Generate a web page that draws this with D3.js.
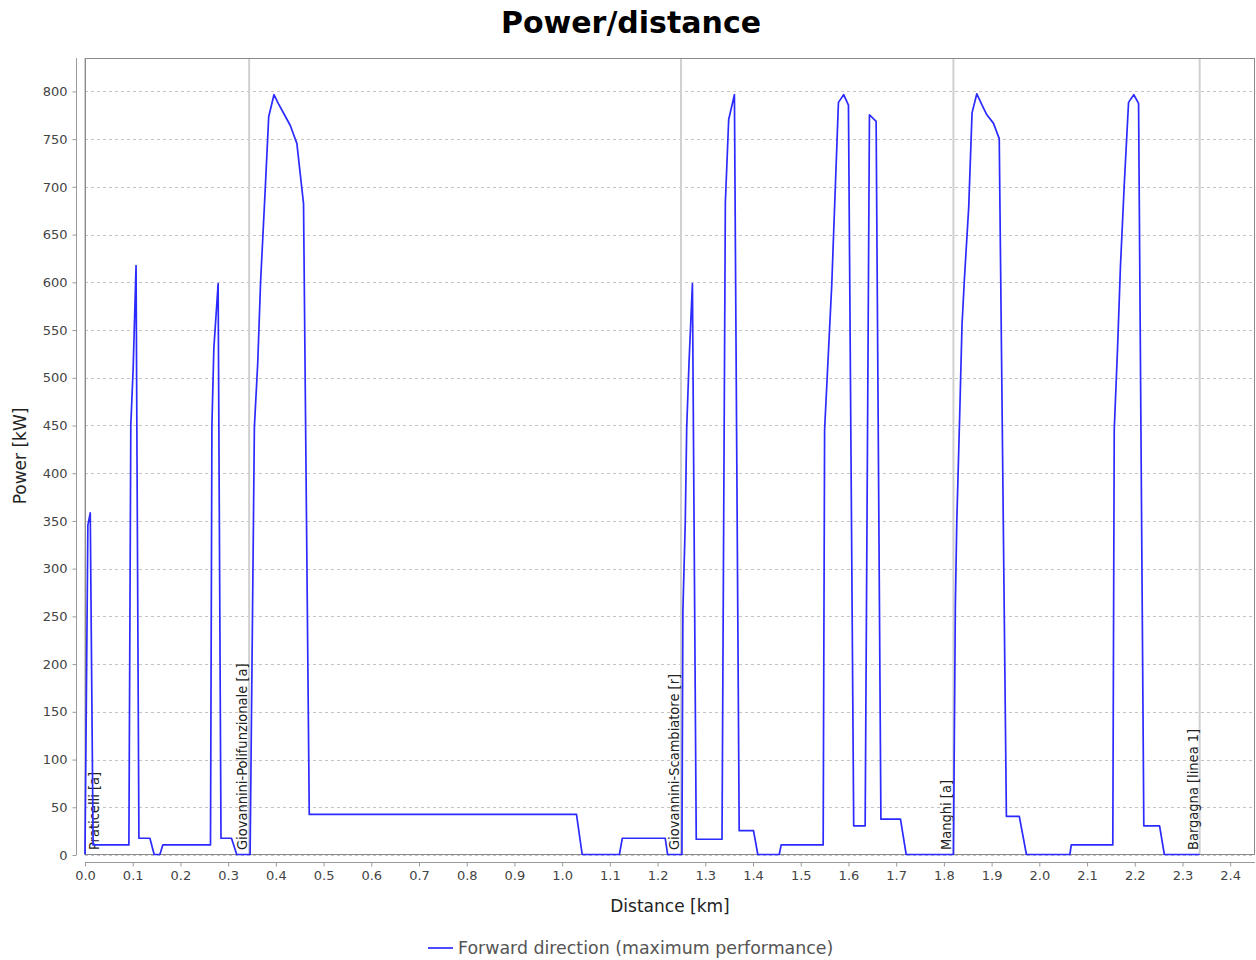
<!DOCTYPE html>
<html>
<head>
<meta charset="utf-8">
<script src="https://cdn.jsdelivr.net/npm/d3@7"></script>
<style>
  html, body { margin: 0; padding: 0; background: #fff; }
  svg { display: block; font-family: "DejaVu Sans", sans-serif; }
</style>
</head>
<body>
<svg id="chart" width="1256" height="960"></svg>
<script>
// Distance along the route [km]
const distance = [
  0.000, 0.006, 0.011, 0.017, 0.092, 0.096, 0.101, 0.107, 0.113, 0.136,
  0.145, 0.157, 0.163, 0.263, 0.266, 0.270, 0.279, 0.285, 0.307, 0.318,
  0.346, 0.355, 0.362, 0.368, 0.378, 0.385, 0.396, 0.405, 0.418, 0.430,
  0.444, 0.458, 0.470, 1.030, 1.042, 1.120, 1.126, 1.216, 1.221, 1.251,
  1.253, 1.258, 1.261, 1.266, 1.273, 1.281, 1.335, 1.342, 1.349, 1.361,
  1.371, 1.401, 1.410, 1.455, 1.459, 1.547, 1.550, 1.565, 1.579, 1.590,
  1.600, 1.611, 1.635, 1.644, 1.658, 1.668, 1.709, 1.721, 1.820, 1.824,
  1.827, 1.833, 1.838, 1.843, 1.852, 1.859, 1.869, 1.880, 1.890, 1.904,
  1.916, 1.931, 1.958, 1.973, 2.064, 2.067, 2.154, 2.157, 2.164, 2.170,
  2.178, 2.187, 2.198, 2.208, 2.219, 2.252, 2.262, 2.336
];
// Power demand, forward direction [kW]
const power = [
  0, 345, 358, 10, 10, 450, 510, 617, 17, 17,
  0, 0, 10, 10, 450, 530, 598, 17, 17, 0,
  0, 448, 515, 600, 700, 773, 796, 787, 775, 764,
  745, 682, 42, 42, 0, 0, 17, 17, 0, 0,
  255, 348, 447, 517, 598, 16, 16, 683, 770, 796,
  25, 25, 0, 0, 10, 10, 445, 597, 788, 796,
  785, 30, 30, 775, 768, 37, 37, 0, 0, 260,
  348, 458, 555, 603, 678, 777, 797, 785, 775, 766,
  750, 40, 40, 0, 0, 10, 10, 445, 531, 616,
  702, 788, 796, 787, 30, 30, 0, 0
];
// Stops along the line
const stopNames = [
  "Praticelli [a]",
  "Giovannini-Polifunzionale [a]",
  "Giovannini-Scambiatore [r]",
  "Manghi [a]",
  "Bargagna [linea 1]"
];
const stopDistance = [0.0, 0.344, 1.249, 1.820, 2.336];

const xTicks = d3.range(0, 25).map(i => i / 10);
const yTicks = d3.range(0, 17).map(i => i * 50);

const xMax = 2.452, yMax = 835;
const seriesName = "Forward direction (maximum performance)";

const plot = { left: 85, top: 58, right: 1255, bottom: 855 };

const svg = d3.select("#chart");

const x = d3.scaleLinear().domain([0, xMax]).range([plot.left, plot.right]);
const y = d3.scaleLinear().domain([0, yMax]).range([plot.bottom, plot.top]);

// Title
svg.append("text")
  .attr("x", 631).attr("y", 33)
  .attr("text-anchor", "middle")
  .attr("font-size", 30).attr("font-weight", "bold")
  .attr("fill", "#000")
  .text("Power/distance");

// Plot background
svg.append("rect")
  .attr("x", plot.left).attr("y", plot.top)
  .attr("width", plot.right - plot.left).attr("height", plot.bottom - plot.top)
  .attr("fill", "#fff");

// Horizontal gridlines
svg.append("g").selectAll("line").data(yTicks).join("line")
  .attr("x1", plot.left).attr("x2", plot.right)
  .attr("y1", d => Math.round(y(d)) + 0.5).attr("y2", d => Math.round(y(d)) + 0.5)
  .attr("stroke", "#c4c4c4").attr("stroke-width", 1)
  .attr("stroke-dasharray", "3,3");

// Stop markers
const markers = svg.append("g");
markers.selectAll("line").data(stopDistance).join("line")
  .attr("x1", d => x(d)).attr("x2", d => x(d))
  .attr("y1", plot.top).attr("y2", plot.bottom)
  .attr("stroke", "#d0d0d0").attr("stroke-width", 2);

// Plot border
svg.append("rect")
  .attr("x", plot.left + 0.5).attr("y", plot.top + 0.5)
  .attr("width", plot.right - plot.left - 1).attr("height", plot.bottom - plot.top - 1)
  .attr("fill", "none").attr("stroke", "#8a8a8a").attr("stroke-width", 1);

// Power series
const lineGen = d3.line()
  .x((d, i) => x(distance[i]))
  .y((d, i) => y(power[i]) - 0.5);

svg.append("path")
  .datum(power)
  .attr("d", lineGen)
  .attr("fill", "none")
  .attr("stroke", "#2b2bff")
  .attr("stroke-width", 1.7)
  .attr("stroke-linejoin", "round");

// Stop labels, rotated, reading upward from the bottom of the plot
markers.selectAll("text").data(stopNames).join("text")
  .attr("transform", (d, i) => {
    const mx = x(stopDistance[i]);
    const tx = i === 0 ? mx + 14 : mx - 2;
    return `translate(${tx},${plot.bottom - 5}) rotate(-90)`;
  })
  .attr("font-family", "'DejaVu Sans Condensed', 'DejaVu Sans', sans-serif")
  .attr("font-stretch", "condensed")
  .attr("font-size", 14.5)
  .attr("fill", "#222")
  .text(d => d);

// Y axis (offset left of the plot)
const yAxis = d3.axisLeft(y).tickValues(yTicks).tickSize(4).tickPadding(5)
  .tickFormat(d3.format("d"));
const gy = svg.append("g")
  .attr("transform", `translate(${plot.left - 8.5},0)`)
  .call(yAxis);
gy.select(".domain").attr("stroke", "#9a9a9a").attr("d", `M0,${plot.top}V${plot.bottom}`);
gy.selectAll(".tick line").attr("stroke", "#9a9a9a");
gy.selectAll(".tick text").attr("font-size", 13).attr("fill", "#444")
  .attr("font-family", "'DejaVu Sans', sans-serif");

// X axis (offset below the plot)
const xAxis = d3.axisBottom(x).tickValues(xTicks).tickSize(4).tickPadding(4)
  .tickFormat(d3.format(".1f"));
const gx = svg.append("g")
  .attr("transform", `translate(0,${plot.bottom + 7.5})`)
  .call(xAxis);
gx.select(".domain").attr("stroke", "#9a9a9a").attr("d", `M${plot.left},0H${plot.right}`);
gx.selectAll(".tick line").attr("stroke", "#9a9a9a");
gx.selectAll(".tick text").attr("font-size", 13).attr("fill", "#444")
  .attr("font-family", "'DejaVu Sans', sans-serif");

// Axis titles
svg.append("text")
  .attr("x", 670).attr("y", 912)
  .attr("text-anchor", "middle")
  .attr("font-size", 17).attr("fill", "#222")
  .text("Distance [km]");

svg.append("text")
  .attr("transform", `translate(26,456) rotate(-90)`)
  .attr("text-anchor", "middle")
  .attr("font-size", 17).attr("fill", "#222")
  .text("Power [kW]");

// Legend
const legend = svg.append("g").attr("transform", "translate(428,948)");
legend.append("line")
  .attr("x1", 0).attr("x2", 25).attr("y1", 0).attr("y2", 0)
  .attr("stroke", "#2b2bff").attr("stroke-width", 1.7);
legend.append("text")
  .attr("x", 30).attr("y", 6)
  .attr("font-size", 17.4).attr("fill", "#555")
  .text(seriesName);
</script>
</body>
</html>
